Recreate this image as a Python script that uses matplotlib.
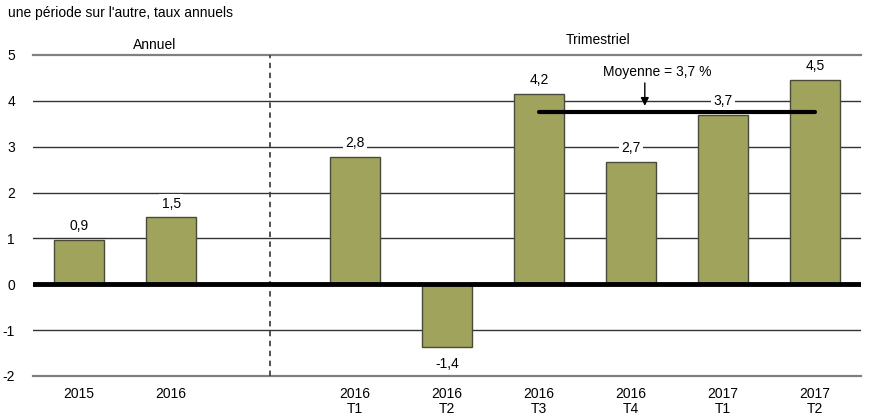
import numpy as np
import matplotlib.pyplot as plt

plt.rcParams['font.family'] = ['Liberation Sans', 'DejaVu Sans']

categories = ['2015', '2016', '', '2016\nT1', '2016\nT2', '2016\nT3', '2016\nT4', '2017\nT1', '2017\nT2']
values = [0.96, 1.46, np.nan, 2.77, -1.37, 4.15, 2.67, 3.70, 4.46]
labels = ['0,9', '1,5', '', '2,8', '-1,4', '4,2', '2,7', '3,7', '4,5']
moyenne = 3.75
moy_start, moy_end = 5, 8

bar_color = '#A0A35C'
fs = 10

fig = plt.figure(figsize=(8.71, 4.18), dpi=100)
ax = fig.add_axes([0.038, 0.1005, 0.9505, 0.768])

x = np.arange(len(categories))
ax.set_xlim(-0.5, len(categories) - 0.5)
ax.set_ylim(-2, 5)

for yv in range(-2, 6):
    if yv == 0:
        continue
    if yv in (-2, 5):
        ax.axhline(yv, color='#808080', lw=1.6, zorder=1, clip_on=False)
    else:
        ax.axhline(yv, color='#333333', lw=1, zorder=1)
ax.axhline(0, color='black', lw=3.5, zorder=4)

ax.bar(x, values, width=0.54, color=bar_color, edgecolor='#4a4a3a', lw=1, zorder=3)

for xi, v, lab in zip(x, values, labels):
    if not lab:
        continue
    if xi == 7:
        ty = 4.0
    elif v >= 0:
        ty = v + 0.3
    else:
        ty = v - 0.37
    ax.text(xi, ty, lab, ha='center', va='center', fontsize=fs, zorder=6,
            bbox=dict(facecolor='white', edgecolor='none', pad=1.5))

# separateur annuel / trimestriel
ax.axvline(2.08, ymin=0, ymax=1, color='#444444', lw=1.3, ls=(0, (3, 2.5)), zorder=2)

# ligne de la moyenne
ax.plot([moy_start, moy_end], [moyenne, moyenne], color='black', lw=3, solid_capstyle='round', zorder=5)
ax.annotate('', xy=(6.15, moyenne + 0.08), xytext=(6.15, 4.45),
            arrowprops=dict(arrowstyle='-|>', color='black', lw=1, mutation_scale=12), zorder=6)
ax.text(6.28, 4.62, 'Moyenne = 3,7 %', ha='center', va='center', fontsize=fs, zorder=6,
        bbox=dict(facecolor='white', edgecolor='none', pad=1))

ax.set_xticks(x)
ax.set_xticklabels(categories, fontsize=fs, linespacing=1.05)
ax.set_yticks(range(-2, 6))
ax.set_yticklabels([str(v) for v in range(-2, 6)], fontsize=fs)
ax.tick_params(length=0, pad=13, axis='y')
ax.tick_params(length=0, pad=8, axis='x')
for s in ax.spines.values():
    s.set_visible(False)

fig.text(8 / 871, 1 - 13 / 418, "une période sur l'autre, taux annuels", fontsize=fs, ha='left', va='center')
fig.text(155 / 871, 1 - 45 / 418, 'Annuel', fontsize=fs, ha='center', va='center')
fig.text(598 / 871, 1 - 40 / 418, 'Trimestriel', fontsize=fs, ha='center', va='center')

fig.savefig('out.png', dpi=100)
